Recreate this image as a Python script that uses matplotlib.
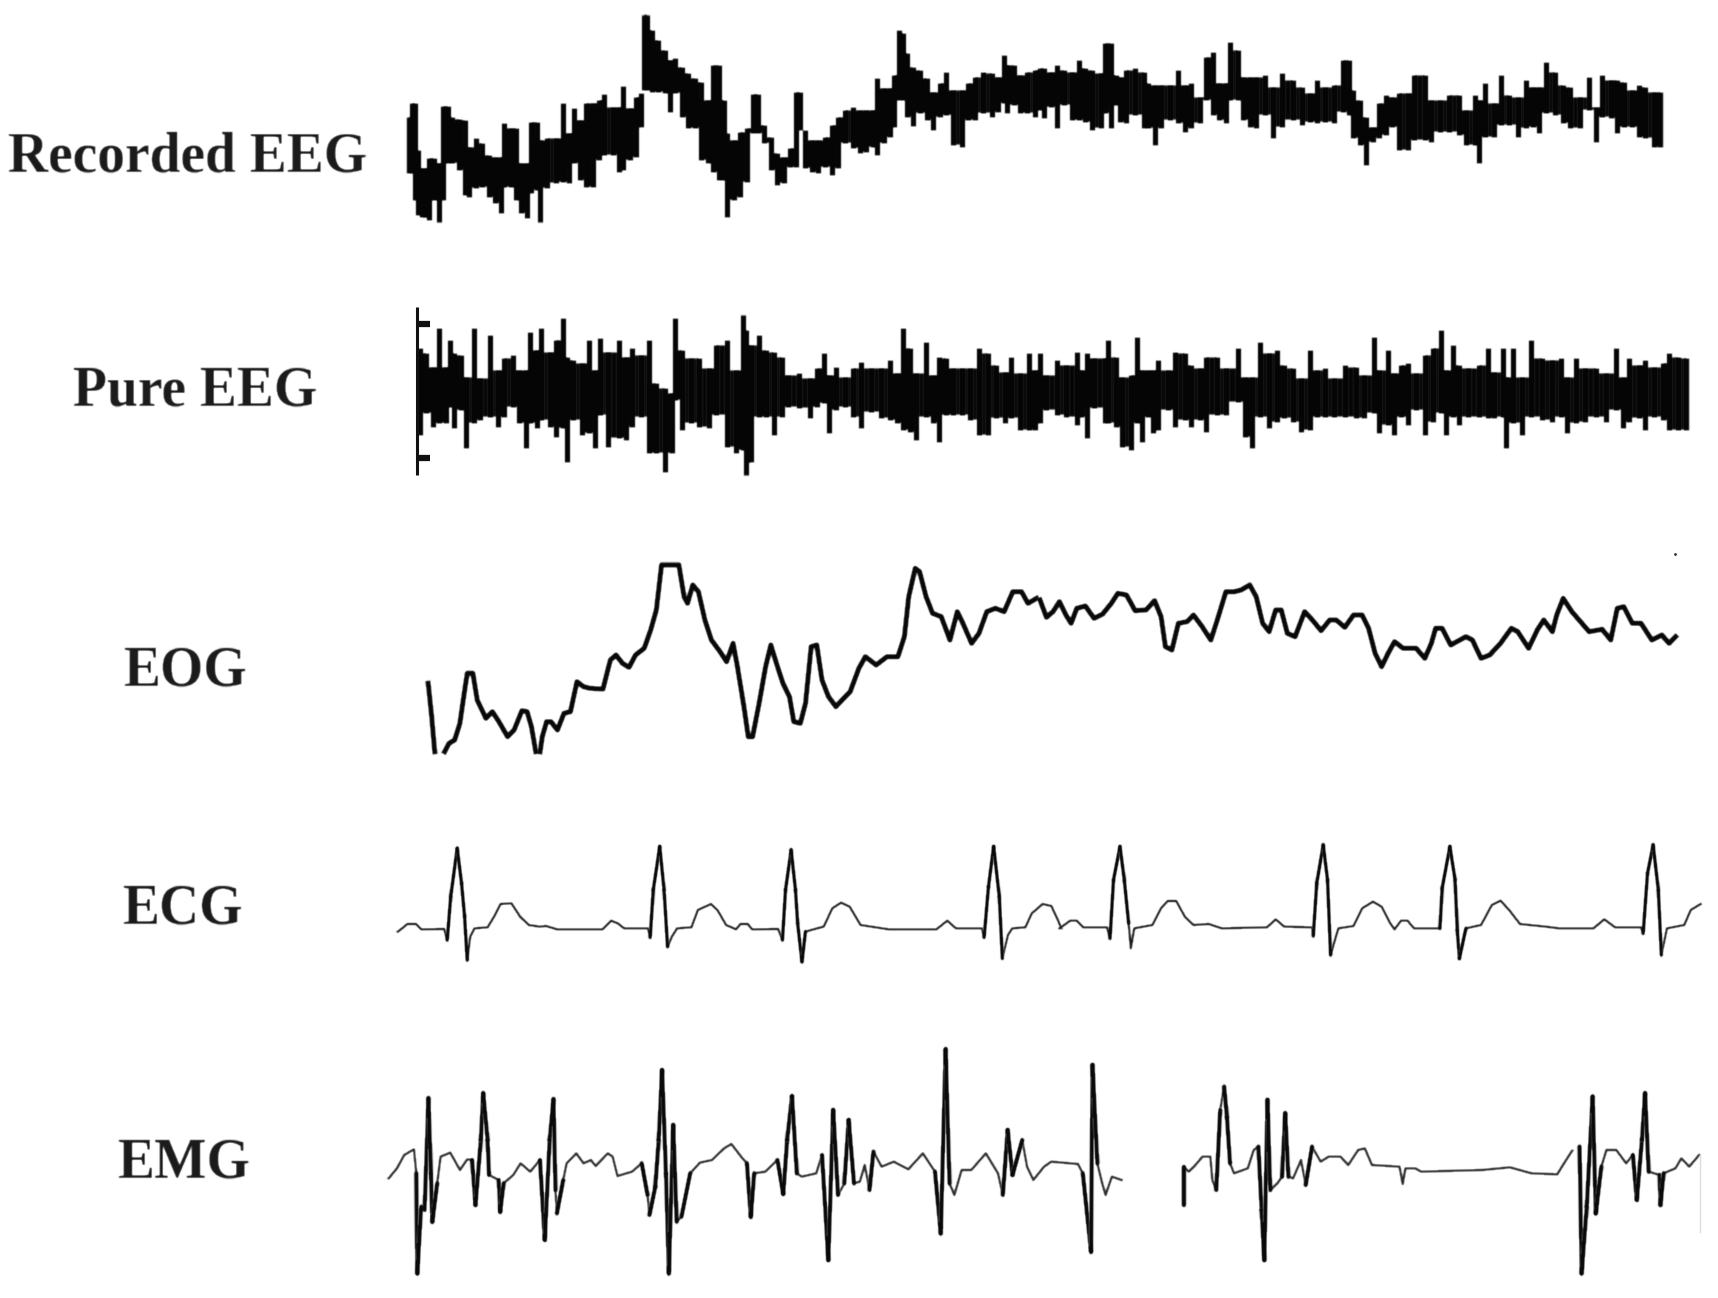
import numpy as np
import matplotlib
matplotlib.use("Agg")
import matplotlib.pyplot as plt

LABELS = ["Recorded EEG", "Pure EEG", "EOG", "ECG", "EMG"]

# Recorded EEG, envelope of the thick trace
rec_x1 = [20,28,35,42,50,60,68,78,90,100,110,120,135,150,160,175,190,205,220,232,240,255,268,280,292,303,315,322,340,360,375,390,402,415,430,445,458,470,490,505,515,530,545,555,562,570,580,595,610,622,635,650,665,680,695,710,722,735,748,755,770,785,800,815,825,840,855,870,885,900,912,922,935,950,965,980,995,1010,1025,1045,1060,1075,1090,1100,1115,1130,1140,1150,1160,1170,1182,1200,1215,1230,1245,1260,1275,1295,1310,1325,1345,1365,1380,1393,1400,1415,1430,1445,1465]
rec_top1 = [350,308,310,450,505,505,475,475,490,318,318,350,358,360,440,415,430,465,470,470,370,385,385,490,490,365,365,420,415,415,310,400,325,360,310,310,300,283,320,320,258,325,290,280,45,45,90,120,150,180,175,200,220,235,245,300,195,195,300,400,420,395,385,282,282,375,410,460,470,445,275,275,390,420,420,410,375,350,330,320,330,330,330,235,265,265,225,90,100,160,200,210,235,275,250,215,270,270,250,230,215,220,230,165,195,195,225,215,210]
rec_low1 = [520,520,600,645,650,650,660,600,665,600,490,490,510,585,590,565,560,590,610,640,560,560,600,640,655,580,570,665,565,550,545,550,490,540,560,560,480,465,465,515,510,480,470,380,270,270,275,275,280,335,280,350,385,385,480,490,515,540,540,650,600,590,545,400,400,430,510,555,550,500,500,390,505,515,520,500,525,505,430,445,460,455,440,465,430,410,380,300,300,350,378,340,360,390,350,345,435,440,360,360,340,350,335,310,340,315,340,340,350]

rec_x2 = [0,10,25,40,55,75,90,105,120,140,150,165,175,185,200,220,240,250,265,280,300,320,335,350,370,385,400,415,430,440,458,470,485,500,520,540,560,585,605,625,640,660,680,700,715,725,740,755,770,785,800,815,830,850,865,890,905,925,945,970,985,1005,1015,1030,1050,1065,1085,1105,1125,1140,1155,1170,1190,1210,1225,1250,1270,1285,1300,1320,1335,1350,1370,1385,1400,1420,1433]
rec_top2 = [205,205,215,195,210,215,180,205,210,220,130,130,225,230,210,205,215,250,255,255,255,210,255,250,290,170,155,250,250,125,150,230,230,230,225,260,220,240,260,280,240,260,255,180,180,270,300,350,380,310,285,290,280,280,225,225,300,300,285,285,330,285,300,250,310,225,285,290,240,260,260,185,215,255,260,290,230,320,225,240,240,245,270,255,260,275,275]
rec_low2 = [330,355,320,385,315,360,360,365,390,385,340,385,315,365,370,345,385,385,435,385,360,370,395,385,370,300,345,360,370,300,300,360,380,385,345,415,380,360,375,365,370,365,370,335,345,415,435,495,425,415,405,380,450,450,420,420,425,395,395,405,435,435,490,410,410,375,375,410,385,380,400,340,345,370,385,385,330,425,350,355,400,380,380,410,415,440,440]

# Pure EEG, envelope of the thick trace
pure_x1 = [45,60,75,90,105,115,125,140,152,170,185,208,225,240,260,275,290,300,315,325,345,360,375,385,400,420,435,450,462,480,505,520,535,555,575,590,612,628,633,650,670,690,712,728,755,775,790,798,810,828,845,862,880,895,920,945,962,978,990,1005,1025,1045,1062,1085,1110,1130,1145,1160,1175,1190,1213,1228,1242,1260,1275,1295,1315,1335,1355,1375,1395,1410,1430,1450,1465]
pure_top1 = [175,190,230,115,230,150,190,195,260,115,265,135,240,205,195,240,240,125,180,115,185,150,85,200,210,220,150,240,145,185,150,200,175,195,150,280,295,310,85,180,205,205,235,165,150,240,75,120,165,135,180,185,200,255,250,265,235,190,255,230,260,235,215,235,235,210,250,115,175,250,155,255,200,205,235,235,235,175,190,225,245,200,250,190,240]
pure_low1 = [435,370,410,400,400,350,415,360,475,400,390,380,410,380,350,400,475,400,415,390,410,440,415,515,390,435,430,475,375,470,445,450,410,380,490,490,545,490,330,420,400,410,415,375,470,490,480,555,515,380,380,435,380,350,355,385,350,340,430,360,350,380,415,365,385,390,400,420,425,450,380,400,455,375,375,375,390,435,435,385,400,385,420,420,420]

pure_x2 = [0,15,40,60,85,95,108,125,150,158,175,190,210,225,235,250,262,272,295,312,335,350,370,385,410,430,458,475,490,508,530,548,565,585,603,625,640,660,680,705,730,750,772,785,805,818,835,850,870,890,910,928,940,955,968,990,1015,1035,1050,1070,1078,1095,1115,1135,1160,1185,1205,1218,1240,1260,1285,1310,1332,1348,1362,1385,1400,1420,1440,1455,1475,1495]
pure_top2 = [190,255,210,225,185,240,190,205,205,150,200,260,255,140,240,240,240,210,240,185,190,225,235,200,200,235,175,260,260,155,190,180,225,235,265,180,240,235,265,225,230,255,140,240,180,250,225,220,250,195,175,120,240,165,225,235,225,175,245,175,260,175,260,150,205,210,205,260,205,235,235,250,175,260,205,225,210,230,220,190,200,205]
pure_low2 = [400,360,375,380,405,380,445,355,400,400,410,470,480,400,455,380,430,420,360,410,390,410,390,425,375,375,335,440,475,380,415,395,385,395,425,420,380,380,380,380,385,385,370,430,405,435,380,405,360,435,395,370,435,380,405,380,380,385,385,380,475,400,435,380,390,395,380,430,400,395,380,395,360,415,395,385,420,380,390,420,420,420]

# EOG
eog_x1a = [42,50,57]
eog_y1a = [430,530,635]
eog_x1b = [80,90,103,115,125,132,145,155,175,190,205,225,240,258,270,280,290]
eog_y1b = [635,610,600,550,460,400,400,480,535,515,545,590,570,512,515,560,635]
eog_x1c = [300,305,315,325,340,355,370,385,400,415,445,462,475,490,505,520,540,555,568,580,620,632,640,652,665,680,695,715,730,745,755,770,780,790,805,820,832,845,860,875,885,900,912,925,938,950,965,982,1000,1015,1035,1050,1075,1100,1125,1140,1150,1165,1175,1190,1205,1225,1245,1262,1275,1295,1312,1330,1350,1370,1390,1410,1425,1445]
eog_y1c = [635,590,545,545,570,520,515,425,440,445,447,360,345,370,382,345,325,270,210,75,75,170,190,135,155,240,300,335,365,310,380,500,590,590,490,380,315,370,430,470,545,550,490,320,315,420,470,500,475,455,385,350,375,350,350,290,170,85,95,170,220,230,300,215,250,310,280,215,205,215,155,155,190,175]
eog_x2 = [0,15,30,45,60,72,85,105,125,145,165,180,200,220,245,265,280,290,305,320,340,355,375,395,410,430,450,465,485,500,515,530,545,558,572,590,612,630,650,670,685,705,725,745,760,775,790,805,820,840,870,890,905,915,930,950,985,1000,1020,1040,1065,1090,1105,1130,1150,1165,1185,1195,1210,1230,1250,1270,1300,1320,1335,1350,1370,1390,1415,1438,1455,1470]
eog_y2 = [180,232,215,185,225,250,205,198,235,222,190,160,165,212,210,182,230,320,330,250,245,225,260,300,240,155,155,150,135,170,250,275,210,210,280,290,215,240,272,240,240,262,225,225,265,340,380,340,305,325,325,355,310,265,265,315,290,300,355,345,310,265,275,325,270,240,275,225,175,215,245,275,268,300,205,200,250,250,300,285,310,290]

# ECG
ecg_x1 = [18,28,40,60,72,125,132,140,155,165,172,178,185,195,225,240,255,280,300,320,345,360,385,490,510,525,540,595,600,607,622,632,640,650,662,695,710,740,755,775,798,808,825,835,895,905,912,925,935,940,950,958,985,1000,1020,1040,1060,1085,1120,1150,1260,1285,1305,1365,1370,1380,1392,1405,1412,1425,1435,1465,1480,1505,1525,1540,1548]
ecg_y1 = [305,295,282,282,298,297,330,200,55,160,260,390,320,295,292,260,222,220,260,285,290,288,298,298,272,280,295,295,322,180,50,180,350,320,295,292,240,222,240,285,298,282,282,298,297,330,180,60,180,280,395,305,295,290,235,218,230,285,292,298,298,272,295,295,322,170,50,200,385,315,295,292,250,222,228,270,295]
ecg_x2 = [45,70,85,100,155,162,170,185,195,205,210,218,260,280,295,315,335,355,390,420,525,545,565,630,632,640,655,665,672,690,725,745,770,790,810,820,835,850,865,925,930,948,960,965,970,985,1020,1045,1065,1085,1110,1170,1200,1280,1305,1330,1390,1395,1405,1418,1430,1437,1450,1490,1505,1528]
ecg_y2 = [295,272,272,292,292,325,150,50,150,280,355,295,285,235,213,213,260,285,282,295,292,268,290,292,318,160,45,150,375,295,288,235,215,230,280,298,272,272,295,295,175,50,150,300,385,295,285,225,212,240,282,290,295,295,268,292,292,310,130,45,180,375,295,285,240,222]

# EMG, two separate strips
emg_x1 = [18,35,50,70,75,77,85,92,100,105,108,118,125,145,165,180,190,197,208,213,222,225,245,248,255,275,290,310,330,340,350,358,362,365,378,385,405,420,435,445,470,480,490,520,540,552,556,568,575,582,590,596,605,612,622,640,660,685,710,725,745,757,765,772,795,820,832,840,850,860,870,900,912,925,935,945,958,967,978,990,1000,1010,1018,1035,1060,1090,1120,1145,1157,1167,1175,1185,1200,1220,1250,1275,1285,1295,1305,1325,1335,1348,1370,1385,1440,1450,1467,1470,1480,1490,1497,1510,1530]
emg_y1 = [415,385,345,328,400,700,500,510,175,400,545,430,350,338,390,358,360,495,300,160,300,405,420,515,430,405,370,395,360,600,300,178,450,520,420,370,340,370,360,378,340,350,408,395,370,465,525,440,300,90,400,700,255,545,530,400,368,360,325,312,350,370,530,400,395,360,462,300,168,400,410,400,345,660,210,465,430,240,430,425,375,450,335,380,365,388,340,395,580,28,430,465,390,390,340,400,465,270,405,300,380,420,380,365,372,400,635,75,370,430,465,410,420]
emg_x2a = [212,212,225,240,260,280,285,295,305,315,322,330,340,375,390,402,410,417,425,432,450,462,470,478,490,510,522,538,560,580,610,630,655,672,690,760,768,775,800,815,970,1040,1095,1160,1180,1198]
emg_y2a = [495,380,395,378,350,350,420,450,210,140,230,370,400,385,330,320,510,660,180,450,430,410,220,410,415,360,435,320,365,350,350,375,330,325,375,380,432,385,385,395,390,382,400,403,365,332]
emg_x2b = [1217,1222,1235,1250,1258,1272,1285,1310,1335,1352,1362,1375,1383,1392,1420,1422,1430,1460,1475,1495,1520]
emg_y2b = [320,700,500,170,520,380,330,330,370,345,480,300,160,395,405,495,400,385,355,380,345]

# horizontal scale of the crops
SX_680 = 1568 / 680
SX_678 = 1568 / 678
SX_760 = 1568 / 760
SX_618 = 1568 / 618


def px(x, y, x0, y0, sx):
    return x0 + np.array(x) / sx, y0 + np.array(y) / 3


def soften(image, dpi):
    # the scan is a bit blurry, so run a small kernel over what was drawn
    pad = 3
    out = np.pad(image, ((pad, pad), (pad, pad), (0, 0)))
    kernel = np.array([0.2, 0.6, 0.2])
    for axis in (0, 1):
        out = np.apply_along_axis(lambda v: np.convolve(v, kernel, mode="same"), axis, out)
    return out, -pad, -pad


def draw_band(pieces):
    xs, tops, lows = [], [], []
    for x_vals, top, low, x0, y0, sx in pieces:
        x, y_top = px(x_vals, top, x0, y0, sx)
        _, y_low = px(x_vals, low, x0, y0, sx)
        xs.append(x)
        tops.append(y_top)
        lows.append(y_low)
    x = np.concatenate(xs)
    top = np.concatenate(tops)
    low = np.concatenate(lows)
    # narrow spike at each sample, and the part shared by neighbours between them
    bars = ax.vlines(x, top, low, color="#050505", lw=3.8)
    bars.set_agg_filter(soften)
    edge_x = np.repeat(x, 2)[1:-1]
    edge_top = np.repeat(np.maximum(top[:-1], top[1:]), 2)
    edge_low = np.repeat(np.minimum(low[:-1], low[1:]), 2)
    core = ax.fill_between(edge_x, edge_top, edge_low, where=edge_top < edge_low,
                           color="#050505", lw=0)
    core.set_agg_filter(soften)


def draw_trace(x, y, color, lw, spike_lw):
    line, = ax.plot(x, y, color=color, lw=lw, solid_joinstyle="round")
    line.set_agg_filter(soften)
    if spike_lw:
        # the tall strokes are much heavier than the baseline on the scan
        for i in np.where(np.abs(np.diff(y)) > 28)[0]:
            seg, = ax.plot(x[i:i + 2], y[i:i + 2], color="#0a0a0a", lw=spike_lw,
                           solid_capstyle="round")
            seg.set_agg_filter(soften)


fig = plt.figure(figsize=(17.18, 12.98), dpi=100, facecolor="white")
ax = fig.add_axes([0, 0, 1, 1])
ax.set_xlim(0, 1718)
ax.set_ylim(1298, 0)
ax.axis("off")

draw_band([(rec_x1, rec_top1, rec_low1, 400, 0, SX_680),
           (rec_x2, rec_top2, rec_low2, 1040, 0, SX_678)])
draw_band([(pure_x1, pure_top1, pure_low1, 400, 290, SX_680),
           (pure_x2, pure_top2, pure_low2, 1040, 290, SX_678)])

# bar with two small ticks left of the pure EEG
ax.plot([417, 417], [307, 475], color="#111111", lw=2.2, solid_capstyle="butt")
ax.plot([417, 430], [324, 324], color="#111111", lw=4.5, solid_capstyle="butt")
ax.plot([417, 430], [458, 458], color="#111111", lw=4.5, solid_capstyle="butt")

for x_vals, y_vals, x0, y0, sx in [
    (eog_x1a, eog_y1a, 410, 540, SX_680),
    (eog_x1b, eog_y1b, 410, 540, SX_680),
    (eog_x1c, eog_y1c, 410, 540, SX_680),
    (eog_x2, eog_y2, 1040, 540, SX_678),
]:
    x, y = px(x_vals, y_vals, x0, y0, sx)
    draw_trace(x, y, "#080808", 3.6, None)
ax.plot([1675], [554], marker=".", ms=2, color="#333333")

for x_vals, y_vals, x0, y0, sx in [
    (ecg_x1, ecg_y1, 390, 830, SX_680),
    (ecg_x2, ecg_y2, 1040, 830, SX_678),
]:
    x, y = px(x_vals, y_vals, x0, y0, sx)
    draw_trace(x, y, "#1c1c1c", 1.6, 2.4)

for x_vals, y_vals, x0, y0, sx in [
    (emg_x1, emg_y1, 380, 1040, SX_760),
    (emg_x2a, emg_y2a, 1100, 1040, SX_618),
    (emg_x2b, emg_y2b, 1100, 1040, SX_618),
]:
    x, y = px(x_vals, y_vals, x0, y0, sx)
    draw_trace(x, y, "#2a2a2a", 1.7, 3.0)
ax.plot([1700, 1700], [1155, 1232], color="#dddddd", lw=1)

label_x = [188, 195, 185, 182, 183]
label_y = [171, 405, 685, 924, 1178]
for name, lx, ly in zip(LABELS, label_x, label_y):
    label = ax.text(lx, ly, name, ha="center", va="baseline", fontsize=40, fontweight="bold",
                    family="Liberation Serif", color="#1c1c1c")
    label.set_agg_filter(soften)

plt.savefig("out.png", dpi=100, facecolor="white")
